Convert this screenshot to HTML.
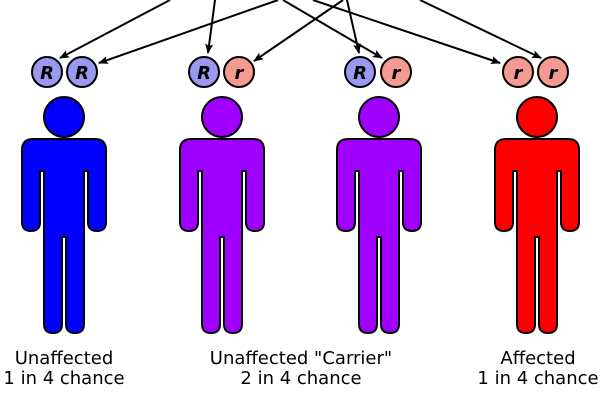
<!DOCTYPE html>
<html><head><meta charset="utf-8"><style>
html,body{margin:0;padding:0;background:#fff;}
svg{display:block;}
</style></head><body>
<svg width="600" height="400" viewBox="0 0 600 400" xmlns="http://www.w3.org/2000/svg">
<defs>
<marker id="ah" markerWidth="10" markerHeight="8" refX="9" refY="4" orient="auto" markerUnits="userSpaceOnUse">
<path d="M0,0 L10,4 L0,8 L2,4 Z" fill="#000"/>
</marker>
<path id="body" d="M -42 150 Q -42 139 -31 139 L 31 139 Q 42 139 42 150 L 42 222 Q 42 231 33 231 Q 24 231 24 222 L 24 171 L 20 171 L 20 324 Q 20 333 11 333 Q 2 333 2 324 L 2 237 L -2 237 L -2 324 Q -2 333 -11 333 Q -20 333 -20 324 L -20 171 L -24 171 L -24 222 Q -24 231 -33 231 Q -42 231 -42 222 Z"/>
</defs>
<g stroke="#000" stroke-width="2" fill="none" marker-end="url(#ah)">
<line x1="170" y1="0" x2="60" y2="58"/>
<line x1="278" y1="0" x2="99" y2="63"/>
<line x1="215" y1="0" x2="208" y2="53"/>
<line x1="343" y1="0" x2="254" y2="61"/>
<line x1="347" y1="0" x2="359" y2="53"/>
<line x1="283" y1="0" x2="382" y2="58"/>
<line x1="313" y1="0" x2="500" y2="63"/>
<line x1="420" y1="0" x2="541" y2="58"/>
</g>
<g stroke="#000" stroke-width="2" font-family="'DejaVu Sans','Liberation Sans',sans-serif" font-weight="bold" font-style="italic" font-size="18" text-anchor="middle">
<circle cx="47" cy="72" r="15" fill="#9999f0"/><circle cx="82" cy="72" r="15" fill="#9999f0"/>
<circle cx="204" cy="72" r="15" fill="#9999f0"/><circle cx="239" cy="72" r="15" fill="#f59a90"/>
<circle cx="360" cy="72" r="15" fill="#9999f0"/><circle cx="396" cy="72" r="15" fill="#f59a90"/>
<circle cx="518" cy="72" r="15" fill="#f59a90"/><circle cx="553" cy="72" r="15" fill="#f59a90"/>
<g stroke="none" fill="#000">
<text x="47" y="79">R</text><text x="82" y="79">R</text>
<text x="204" y="79">R</text><text x="239" y="79">r</text>
<text x="360" y="79">R</text><text x="396" y="79">r</text>
<text x="518" y="79">r</text><text x="553" y="79">r</text>
</g>
</g>
<g stroke="#000" stroke-width="2">
<g fill="#0000ff"><circle cx="64" cy="117" r="20"/><use href="#body" x="64"/></g>
<g fill="#a000ff"><circle cx="222" cy="117" r="20"/><use href="#body" x="222"/></g>
<g fill="#a000ff"><circle cx="379" cy="117" r="20"/><use href="#body" x="379"/></g>
<g fill="#ff0000"><circle cx="537" cy="117" r="20"/><use href="#body" x="537"/></g>
</g>
<g font-family="'DejaVu Sans','Liberation Sans',sans-serif" font-size="18" text-anchor="middle" fill="#000">
<text x="64" y="364">Unaffected</text><text x="64" y="384">1 in 4 chance</text>
<text x="301" y="364">Unaffected "Carrier"</text><text x="301" y="384">2 in 4 chance</text>
<text x="538" y="364">Affected</text><text x="538" y="384">1 in 4 chance</text>
</g>
</svg>
</body></html>
